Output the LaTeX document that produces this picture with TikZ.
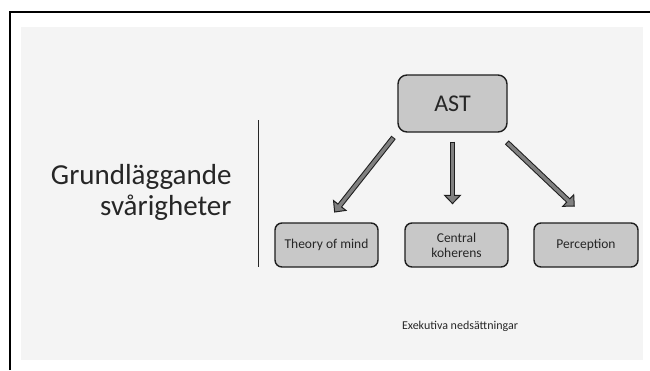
\documentclass[tikz,border=0pt]{standalone}
\usepackage{fontspec}
\setmainfont{Carlito}
\usetikzlibrary{calc, arrows.meta}

\definecolor{panel}{HTML}{F4F4F4}
\definecolor{boxgray}{HTML}{C8C8C8}
\definecolor{arrowgray}{HTML}{808080}
\definecolor{edge}{HTML}{1E1E1E}
\definecolor{ink}{HTML}{262626}

\tikzset{
  astbox/.style={draw=edge, line width=1.4pt, fill=boxgray, rounded corners=9pt,
    minimum width=109pt, minimum height=57pt, inner sep=0pt, text=ink,
    font=\fontsize{24}{26}\selectfont},
  factorbox/.style={draw=edge, line width=1.4pt, fill=boxgray, rounded corners=7pt,
    minimum width=103pt, minimum height=44pt, inner sep=0pt, align=center, text=ink,
    font=\fontsize{13.5}{15}\selectfont},
  arrowline/.style={draw=edge, line width=5.5pt,
    -{Triangle[width=18pt, length=9.5pt, line width=1pt, fill=arrowgray]}},
  arrowcore/.style={draw=arrowgray, line width=3.4pt}
}

\begin{document}
\begin{tikzpicture}[x=1pt, y=-1pt]

% Page and frame
\useasboundingbox (0,0) rectangle (650,370);
\fill[white] (0,0) rectangle (650,370);
\fill[panel] (21,27) rectangle (643,360);
\draw[line width=2pt, black] (10,370) -- (10,11.5) -- (650,11.5);

% Title on the left
\node[anchor=east, align=right, text=ink, font=\fontsize{29}{31}\selectfont]
  (title) at (235,192.5) {Grundläggande\\svårigheter};
\draw[line width=0.9pt, ink] (258,120) -- (258,267);

% Boxes
\node[astbox] (ast) at (452.5,103.5) {AST};
\node[factorbox] (tom) at (326.5,245) {Theory of mind};
\node[factorbox] (ck) at (456.5,245) {Central\\koherens};
\node[factorbox, minimum width=104pt] (perc) at (586,245) {Perception};

% Arrows from AST
\draw[arrowline, shorten <=6pt, shorten >=12.4pt] (ast.south west) -- (tom.north);
\draw[arrowcore, shorten <=7pt, shorten >=20.4pt] (ast.south west) -- (tom.north);

\draw[arrowline, shorten <=9pt, shorten >=18pt] (ast.south) -- (ast.south |- ck.north);
\draw[arrowcore, shorten <=10pt, shorten >=26pt] (ast.south) -- (ast.south |- ck.north);

\draw[arrowline, shorten <=14pt, shorten >=22.7pt]
  ($(ast.south)!.8!(ast.south east)$) -- ($(perc.north)!.1!(perc.north east)$);
\draw[arrowcore, shorten <=15pt, shorten >=30.7pt]
  ($(ast.south)!.8!(ast.south east)$) -- ($(perc.north)!.1!(perc.north east)$);

% Note at the bottom
\node[text=ink, font=\fontsize{12}{14}\selectfont] (exec) at (460,326) {Exekutiva nedsättningar};

\end{tikzpicture}
\end{document}
